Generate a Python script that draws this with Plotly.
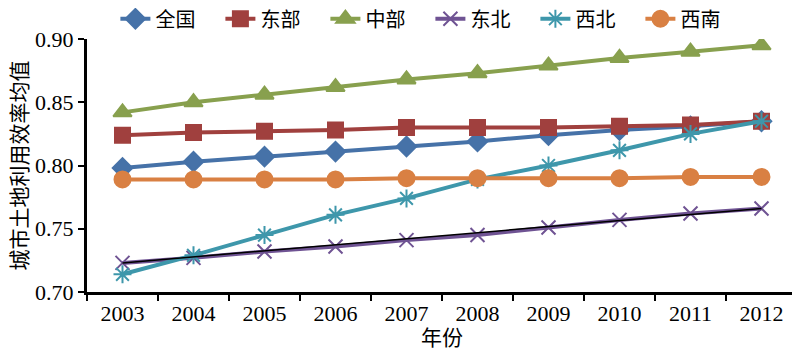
import plotly.graph_objects as go

years = ["2003", "2004", "2005", "2006", "2007", "2008", "2009", "2010", "2011", "2012"]
quanguo = [0.798, 0.803, 0.807, 0.811, 0.815, 0.819, 0.824, 0.828, 0.831, 0.835]
dongbu = [0.824, 0.826, 0.827, 0.828, 0.830, 0.830, 0.830, 0.831, 0.832, 0.835]
zhongbu = [0.842, 0.850, 0.856, 0.862, 0.868, 0.873, 0.879, 0.885, 0.890, 0.895]
dongbei = [0.723, 0.727, 0.732, 0.736, 0.741, 0.745, 0.751, 0.757, 0.762, 0.766]
xibei = [0.714, 0.729, 0.745, 0.761, 0.774, 0.789, 0.800, 0.812, 0.825, 0.835]
xinan = [0.789, 0.789, 0.789, 0.789, 0.790, 0.790, 0.790, 0.790, 0.791, 0.791]

series = [
    ("全国", quanguo, "#4672A8", "diamond", 15),
    ("东部", dongbu, "#A0403E", "square", 15),
    ("中部", zhongbu, "#88A04E", "triangle-up", 16),
    ("东北", dongbei, "#6F5393", "x-thin", 14),
    ("西北", xibei, "#3E97AB", "asterisk", 15),
    ("西南", xinan, "#D98043", "circle", 16),
]

font_family = "Liberation Serif, Times New Roman, Noto Sans CJK SC, serif"

fig = go.Figure()
for name, vals, color, sym, size in series:
    fig.add_trace(go.Scatter(
        x=years, y=vals, name=name, mode="lines+markers",
        line=dict(color=color, width=4),
        marker=dict(symbol=sym, size=size, color=color,
                    line=dict(color=color, width=2)),
    ))

# linear trend line over 东北
fig.add_trace(go.Scatter(
    x=[years[0], years[-1]], y=[dongbei[0], dongbei[-1]], mode="lines",
    line=dict(color="black", width=1.5), showlegend=False, hoverinfo="skip",
))

fig.update_layout(
    width=792, height=351,
    paper_bgcolor="white", plot_bgcolor="white",
    margin=dict(l=79, r=3, t=31, b=67, autoexpand=False),
    font=dict(family=font_family, size=22, color="black"),
    legend=dict(orientation="h", x=0.04, xref="paper", y=1.08, yref="paper",
                xanchor="left", yanchor="middle",
                font=dict(size=20), entrywidth=60, entrywidthmode="pixels",
                tracegroupgap=0, bgcolor="rgba(0,0,0,0)"),
    xaxis=dict(
        type="category", showline=True, linecolor="black", linewidth=3,
        ticks="outside", tickson="boundaries", ticklen=6, tickwidth=2, tickcolor="black",
        showgrid=False, automargin=False,
        title=dict(text="年份", standoff=2, font=dict(size=21)),
        range=[-0.5, 9.5],
    ),
    yaxis=dict(
        range=[0.70, 0.90], dtick=0.05, tickformat=".2f",
        showline=True, linecolor="black", linewidth=3,
        ticks="outside", ticklen=6, tickwidth=2, tickcolor="black",
        showgrid=False, zeroline=False, automargin=False,
        title=dict(text="城市土地利用效率均值", standoff=4, font=dict(size=21)),
    ),
)

fig.write_html("out.html")
